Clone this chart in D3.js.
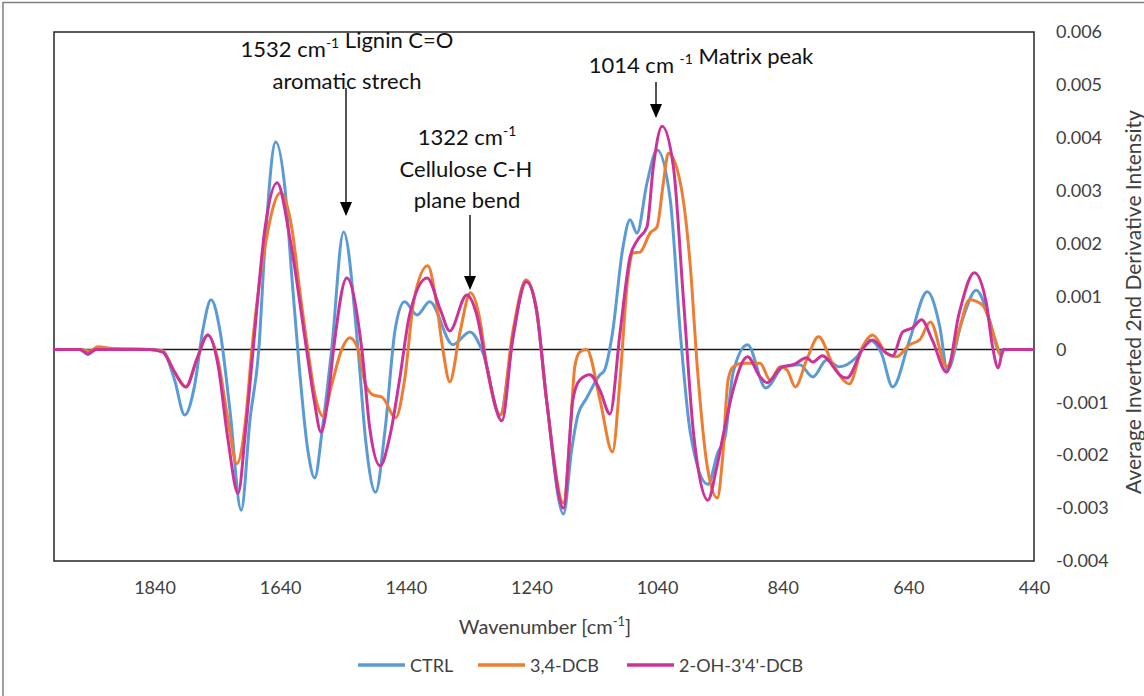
<!DOCTYPE html>
<html>
<head>
<meta charset="utf-8">
<script src="https://cdn.jsdelivr.net/npm/d3@7"></script>
<style>
  body { margin: 0; background: #fff; }
  text { font-family: Lato, "Open Sans", sans-serif; }
</style>
</head>
<body>
<svg id="chart"></svg>
<script>
// wavenumber [cm-1], average inverted 2nd derivative intensity
const ctrl = [[2000,0],[1959,0],[1946,-0.00010],[1933,0],[1847,0],[1827,-0.00003],[1808,-0.00058],[1792,-0.00124],[1776,-0.00067],[1763,0.00037],[1750,0.00094],[1736,0.00037],[1720,-0.00114],[1702,-0.00304],[1688,-0.00133],[1674,0],[1664,0.00200],[1647,0.00392],[1632,0.00300],[1621,0.00131],[1612,0],[1596,-0.00190],[1585,-0.00243],[1573,-0.00152],[1558,0],[1539,0.00222],[1516,0],[1504,-0.00171],[1488,-0.00270],[1473,-0.00152],[1457,0.00037],[1442,0.00090],[1422,0.00065],[1402,0.00090],[1365,0.00009],[1338,0.00033],[1317,-0.00007],[1290,-0.00124],[1270,0.00018],[1249,0.00131],[1232,0.00075],[1216,-0.00095],[1189,-0.00311],[1176,-0.00190],[1166,-0.00124],[1152,-0.00092],[1131,-0.00048],[1124,-0.00040],[1111,0.00031],[1095,0.00188],[1083,0.00245],[1072,0.00220],[1056,0.00315],[1040,0.00377],[1019,0.00283],[1003,0.00031],[987,-0.00158],[959,-0.00255],[943,-0.00194],[932,-0.00167],[919,-0.00044],[896,0.00009],[867,-0.00073],[839,-0.00033],[813,-0.00029],[792,-0.00052],[770,-0.00020],[750,-0.00033],[722,-0.00014],[702,0.00018],[683,-0.00007],[665,-0.00071],[638,0.00018],[610,0.00109],[590,0.00043],[578,-0.00039],[554,0.00056],[532,0.00112],[511,0.00056],[498,0],[495,-0.00007],[489,0],[440,0]];

const dcb = [[2000,0],[1959,0],[1943,-0.00003],[1930,0.00005],[1911,0.00002],[1847,0],[1827,-0.00003],[1808,-0.00043],[1790,-0.00071],[1773,-0.00020],[1755,0.00027],[1739,-0.00020],[1723,-0.00133],[1709,-0.00216],[1695,-0.00133],[1685,0],[1664,0.00195],[1639,0.00296],[1621,0.00226],[1609,0.00113],[1596,0],[1583,-0.00095],[1572,-0.00126],[1558,-0.00067],[1542,0],[1529,0.00022],[1516,0],[1504,-0.00067],[1492,-0.00086],[1478,-0.00090],[1456,-0.00129],[1442,-0.00058],[1427,0.00094],[1405,0.00158],[1392,0.00094],[1381,0],[1370,-0.00061],[1354,0.00031],[1337,0.00107],[1322,0.00056],[1311,-0.00033],[1289,-0.00124],[1270,0.00031],[1248,0.00131],[1232,0.00075],[1216,-0.00095],[1189,-0.00290],[1179,-0.00170],[1171,-0.00033],[1163,-0.00005],[1152,0],[1131,-0.00095],[1111,-0.00194],[1099,-0.00058],[1087,0.00131],[1078,0.00182],[1067,0.00184],[1051,0.00220],[1040,0.00232],[1030,0.00315],[1022,0.00371],[1003,0.00315],[987,0.00156],[976,-0.00033],[960,-0.00222],[944,-0.00281],[936,-0.00209],[927,-0.00058],[919,-0.00033],[903,-0.00026],[876,-0.00026],[860,-0.00058],[844,-0.00033],[833,-0.00039],[820,-0.00071],[802,-0.00020],[783,0.00024],[761,-0.00026],[734,-0.00065],[713,0.00005],[697,0.00027],[675,-0.00007],[659,-0.00014],[638,0.00009],[622,0.00018],[605,0.00052],[579,-0.00033],[559,0.00037],[543,0.00094],[522,0.00084],[500,0.00012],[493,-0.00012],[487,0],[440,0]];

const ohdcb = [[2000,0],[1959,0],[1946,-0.00008],[1933,0],[1847,0],[1827,-0.00005],[1808,-0.00043],[1790,-0.00071],[1773,-0.00020],[1755,0.00027],[1739,-0.00029],[1723,-0.00171],[1707,-0.00272],[1695,-0.00152],[1683,0],[1664,0.00230],[1645,0.00315],[1624,0.00207],[1598,0],[1586,-0.00095],[1575,-0.00156],[1564,-0.00095],[1555,0],[1534,0.00135],[1510,0],[1497,-0.00152],[1481,-0.00220],[1465,-0.00162],[1450,-0.00058],[1434,0.00065],[1406,0.00135],[1385,0.00075],[1370,0.00035],[1343,0.00103],[1327,0.00065],[1311,-0.00033],[1287,-0.00135],[1270,0.00018],[1248,0.00128],[1232,0.00075],[1216,-0.00095],[1189,-0.00300],[1174,-0.00095],[1163,-0.00058],[1147,-0.00048],[1131,-0.00077],[1115,-0.00122],[1099,0.00031],[1083,0.00175],[1071,0.00207],[1056,0.00232],[1046,0.00345],[1032,0.00422],[1014,0.00345],[998,0.00094],[982,-0.00158],[959,-0.00285],[946,-0.00228],[933,-0.00152],[919,-0.00077],[896,-0.00014],[876,-0.00052],[865,-0.00063],[841,-0.00033],[823,-0.00029],[802,-0.00016],[792,-0.00024],[777,-0.00012],[745,-0.00052],[738,-0.00054],[713,0],[697,0.00018],[675,-0.00007],[665,-0.00012],[649,0.00033],[633,0.00041],[619,0.00056],[602,0.00018],[579,-0.00043],[559,0.00069],[535,0.00145],[516,0.00088],[506,0.00005],[497,-0.00035],[489,0],[440,0]];

const seriesNames = ["CTRL", "3,4-DCB", "2-OH-3'4'-DCB"];
const seriesColors = ["#5B9BD5", "#ED7D31", "#CC3399"];
const xTicks = [1840, 1640, 1440, 1240, 1040, 840, 640, 440];
const yTicks = [0.006, 0.005, 0.004, 0.003, 0.002, 0.001, 0, -0.001, -0.002, -0.003, -0.004];

const width = 1144,
    height = 696;
const plot = {left: 54, right: 1034, top: 32, bottom: 561};

const svg = d3.select("#chart")
    .attr("width", width)
    .attr("height", height);

svg.append("rect").attr("width", width).attr("height", height).attr("fill", "#fff");
// chart area frame (only left and top edges are visible)
svg.append("path").attr("d", `M3,${height} V2.5 H${width}`)
    .attr("fill", "none").attr("stroke", "#7f7f7f").attr("stroke-width", 1.5);

// reversed wavenumber axis
const x = d3.scaleLinear().domain([2000, 440]).range([plot.left, plot.right]);
const y = d3.scaleLinear().domain([-0.004, 0.006]).range([plot.bottom, plot.top]);

// plot area border
svg.append("rect")
    .attr("x", plot.left).attr("y", plot.top)
    .attr("width", plot.right - plot.left).attr("height", plot.bottom - plot.top)
    .attr("fill", "none").attr("stroke", "#262626").attr("stroke-width", 1.5);

// zero line
svg.append("line")
    .attr("x1", plot.left).attr("x2", plot.right)
    .attr("y1", y(0)).attr("y2", y(0))
    .attr("stroke", "#1a1a1a").attr("stroke-width", 1.5);

// x axis labels
const xAxis = svg.append("g")
    .attr("transform", `translate(0,${plot.bottom})`)
    .call(d3.axisBottom(x).tickValues(xTicks).tickSize(0).tickPadding(20).tickFormat(d3.format("d")));
xAxis.select(".domain").remove();
xAxis.selectAll("text").style("font-size", "18px").attr("fill", "#404040")
    .style("font-family", "Lato, sans-serif");

// y axis labels on the right
const fmtY = d => d === 0 ? "0" : d3.format(".3f")(d).replace("\u2212", "-");
const yAxis = svg.append("g")
    .attr("transform", `translate(${plot.right},0)`)
    .call(d3.axisRight(y).tickValues(yTicks).tickSize(0).tickPadding(22).tickFormat(fmtY));
yAxis.select(".domain").remove();
yAxis.selectAll("text").style("font-size", "18px").attr("fill", "#404040")
    .style("font-family", "Lato, sans-serif");

// axis titles
const xt = svg.append("text").attr("x", 545).attr("y", 634)
    .attr("text-anchor", "middle").style("font-size", "20px").attr("fill", "#404040");
xt.append("tspan").text("Wavenumber [cm");
xt.append("tspan").attr("dy", -8).style("font-size", "13px").text("-1");
xt.append("tspan").attr("dy", 8).text("]");

svg.append("text")
    .attr("transform", "translate(1132,302) rotate(-90)")
    .attr("text-anchor", "middle").attr("dominant-baseline", "central")
    .style("font-size", "21px").attr("fill", "#404040")
    .text("Average Inverted  2nd Derivative Intensity");

// the three spectra
const line = d3.line()
    .x(d => x(d[0]))
    .y(d => y(d[1]))
    .curve(d3.curveMonotoneX);

const g = svg.append("g");
[ctrl, dcb, ohdcb].forEach(function(data, i) {
  g.append("path")
    .datum(data)
    .attr("d", line)
    .attr("fill", "none")
    .attr("stroke", seriesColors[i])
    .attr("stroke-width", 3)
    .attr("stroke-linejoin", "round");
});

// annotations (strings, or {s: "..."} for a superscript)
function label(xc, yb, parts) {
  const t = svg.append("text").attr("x", xc).attr("y", yb)
      .attr("text-anchor", "middle").style("font-size", "22px").attr("fill", "#111");
  parts.forEach(function(p) {
    if (typeof p === "object") {
      t.append("tspan").attr("dy", -9).style("font-size", "14px").text(p.s);
      t.append("tspan").attr("dy", 9).text("");
    } else {
      t.append("tspan").text(p);
    }
  });
}
function arrow(xa, y1, y2) {
  svg.append("line").attr("x1", xa).attr("x2", xa).attr("y1", y1).attr("y2", y2 - 12)
    .attr("stroke", "#1a1a1a").attr("stroke-width", 1.5);
  svg.append("path").attr("d", `M${xa - 6},${y2 - 14} L${xa + 6},${y2 - 14} L${xa},${y2} Z`)
    .attr("fill", "#000");
}

label(347, 57, ["1532  cm", {s: "-1"}, " Lignin C=O"]);
label(347, 89, ["aromatic strech"]);
arrow(346, 88, 216);

label(467, 145, ["1322  cm", {s: "-1"}]);
label(466, 177, ["Cellulose C-H"]);
label(467, 208, ["plane bend"]);
arrow(470, 215, 290);

label(701, 73, ["1014  cm ", {s: "-1"}, " Matrix peak"]);
arrow(656, 82, 118);

// legend
const legend = svg.append("g");
const legX = [358, 478, 627];
seriesNames.forEach(function(name, i) {
  legend.append("line")
    .attr("x1", legX[i]).attr("x2", legX[i] + 47)
    .attr("y1", 665).attr("y2", 665)
    .attr("stroke", seriesColors[i]).attr("stroke-width", 3.5);
  legend.append("text")
    .attr("x", legX[i] + 52).attr("y", 665)
    .attr("dominant-baseline", "central")
    .style("font-size", "18px").attr("fill", "#404040")
    .text(name);
});
</script>
</body>
</html>
